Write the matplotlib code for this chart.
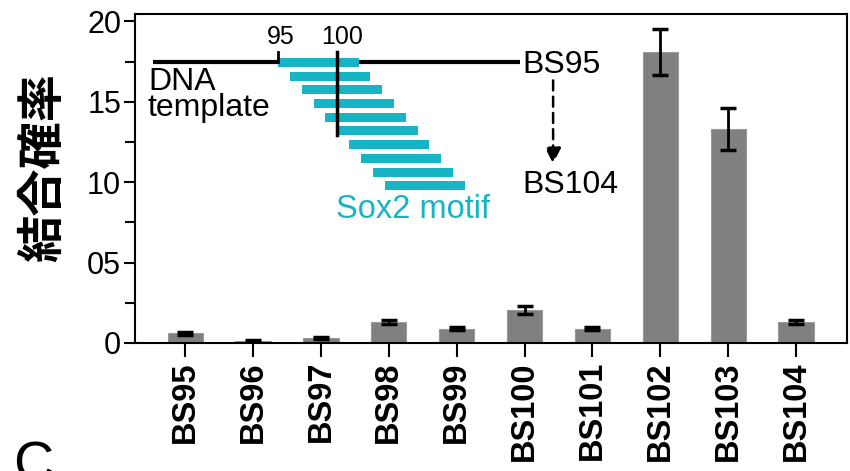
import matplotlib

matplotlib.use("Agg")
import matplotlib.pyplot as plt
import numpy as np

plt.rcParams["font.family"] = ["Liberation Sans", "Noto Sans CJK JP", "DejaVu Sans"]

# binding probability per construct
sites = ["BS95", "BS96", "BS97", "BS98", "BS99", "BS100", "BS101", "BS102", "BS103", "BS104"]
values = [0.6, 0.1, 0.3, 1.3, 0.9, 2.05, 0.9, 18.1, 13.3, 1.3]
errors = [0.08, 0.08, 0.08, 0.12, 0.12, 0.22, 0.12, 1.45, 1.3, 0.12]
ytick_vals = [0, 5, 10, 15, 20]
ytick_labels = ["0", "05", "10", "15", "20"]

# inset diagram: motif start positions (bp) along the template
motif_starts = [95, 96, 97, 98, 99, 100, 101, 102, 103, 104]
motif_len = 6.8
template_span = (84.4, 115.5)

CYAN = "#16b4c4"
GREY = "#808080"

fig = plt.figure(figsize=(8.5, 4.71), dpi=100)
ax = fig.add_axes([0.1588, 0.2718, 0.8377, 0.6982])

x = np.arange(len(sites))
ax.bar(x, values, width=0.52, color=GREY, edgecolor="#9a9a9a", linewidth=0.8, zorder=2)
ax.errorbar(x, values, yerr=errors, fmt="none", ecolor="black", elinewidth=2,
            capsize=6, capthick=2.5, zorder=3)

ax.set_xlim(-0.74, 9.75)
ax.set_ylim(0, 20.45)
ax.set_yticks(ytick_vals)
ax.set_yticklabels(ytick_labels, fontsize=22)
ax.set_yticks([2.5, 7.5, 12.5, 17.5], minor=True)
ax.set_xticks(x)
ax.set_xticklabels(sites, rotation=90, fontsize=23.5, fontweight="bold")
ax.tick_params(axis="y", which="major", length=8, width=1.5, pad=2)
ax.tick_params(axis="y", which="minor", length=7, width=1.5)
ax.tick_params(axis="x", length=10, width=1.5, pad=3)
for s in ax.spines.values():
    s.set_linewidth(1.5)
ax.set_ylabel("結合確率", fontsize=34, fontweight="bold")
ax.yaxis.set_label_coords(-0.0955, 0.535)


def bp_x(bp):
    # inset position in bp -> data x
    return 1.37 + (bp - 95) * 0.174


row_y0 = 17.45
row_step = 0.853
row_h = 0.56

ax.plot([bp_x(template_span[0]), bp_x(template_span[1])], [row_y0, row_y0],
        color="black", lw=3, solid_capstyle="butt", zorder=4)
for i, st in enumerate(motif_starts):
    yy = row_y0 - i * row_step
    ax.add_patch(plt.Rectangle((bp_x(st), yy - row_h / 2), motif_len * 0.174, row_h,
                               color=CYAN, lw=0, zorder=5))
ax.plot([bp_x(95), bp_x(95)], [row_y0, 18.1], color="black", lw=2, zorder=6)
ax.plot([bp_x(100), bp_x(100)], [row_y0 - 5 * row_step - row_h / 2, 18.1],
        color="black", lw=2.5, zorder=6)
ax.text(bp_x(95.2), 19.0, "95", fontsize=18, ha="center", va="center", zorder=6)
ax.text(bp_x(100.4), 19.0, "100", fontsize=18, ha="center", va="center", zorder=6)
ax.text(-0.55, 15.42, "DNA\ntemplate", fontsize=23, ha="left", va="center",
        linespacing=0.8, zorder=6)
ax.text(bp_x(115.7), 17.3, "BS95", fontsize=23, ha="left", va="center", zorder=6)
ax.text(bp_x(115.7), 9.8, "BS104", fontsize=23, ha="left", va="center", zorder=6)
ax.annotate("", xy=(5.42, 10.97), xytext=(5.42, 16.5),
            arrowprops=dict(arrowstyle="-|>", color="black", lw=1.8,
                            linestyle=(0, (4, 2.5)), mutation_scale=24), zorder=6)
ax.text(3.36, 8.29, "Sox2 motif", fontsize=23.5, color=CYAN,
        ha="center", va="center", zorder=6)

# fragment of the next panel letter at the bottom edge
fig.text(0.016, -0.045, "C", fontsize=40, ha="left", va="bottom")

fig.savefig("out.png", dpi=100)
